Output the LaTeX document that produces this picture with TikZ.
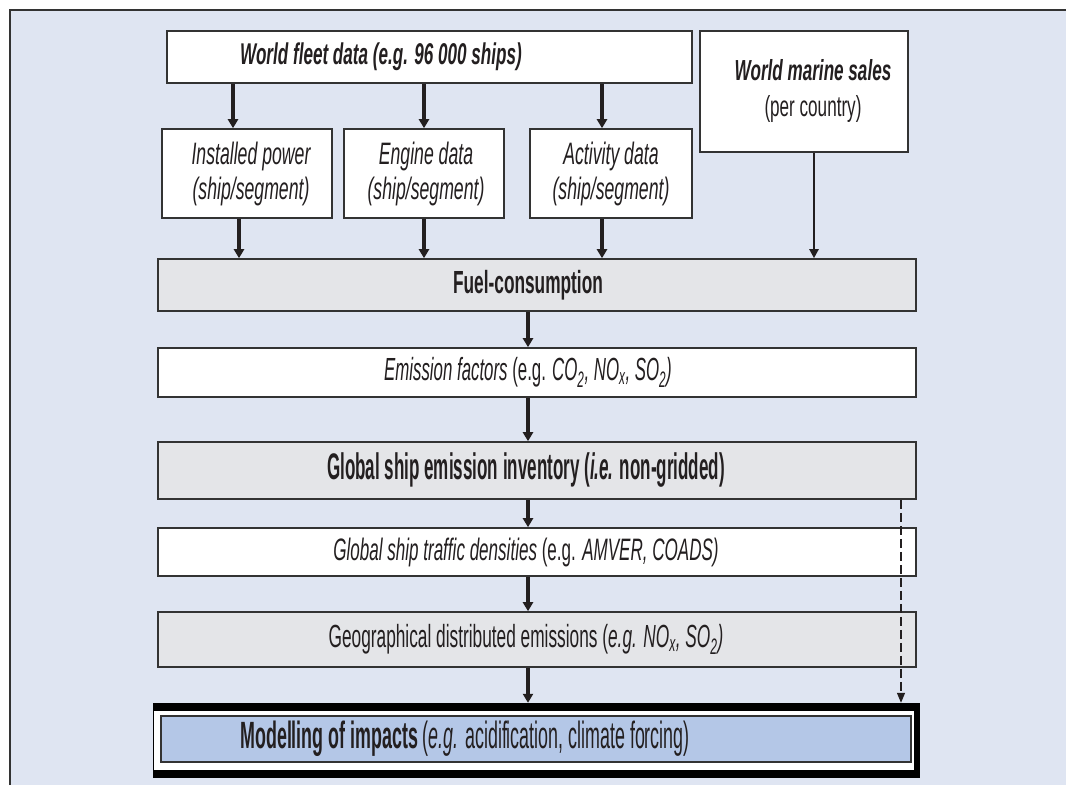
\documentclass[tikz,border=0pt]{standalone}
\usepackage{fontspec}
\setmainfont{Liberation Sans}
\usetikzlibrary{arrows.meta}
\definecolor{bgblue}{RGB}{223,229,242}
\definecolor{boxgrey}{RGB}{228,229,232}
\definecolor{modblue}{RGB}{180,199,231}
\definecolor{ink}{RGB}{35,31,32}
\definecolor{edge}{RGB}{51,51,51}
\newcommand\tfont[3]{\fontsize{#1}{#2}\selectfont\addfontfeatures{FakeStretch=#3}}
\begin{document}
\begin{tikzpicture}[x=1pt,y=-1pt,
  box/.style={draw=edge,line width=1.6pt,fill=white,inner sep=0pt},
  gbox/.style={box,fill=boxgrey},
  txt/.style={inner sep=0pt,text=ink,align=center},
  arr/.style={draw=ink,line width=4.5pt,-{Triangle[width=10pt,length=9pt]}},
  thinarr/.style={draw=ink,line width=2.6pt,-{Triangle[width=9pt,length=9pt]}},
  dasharr/.style={draw=ink,line width=1.2pt,dash pattern=on 9pt off 4pt,-{Triangle[width=8pt,length=10pt]}}]
\useasboundingbox (0,0) rectangle (1066,785);
\fill[bgblue] (10,10) rectangle (1066,785);
\draw[edge,line width=2pt] (10,785) -- (10,10) -- (1066,10);

% x positions of connectors
\coordinate (xa) at (233,0);
\coordinate (xb) at (424,0);
\coordinate (xc) at (602,0);
\coordinate (xa2) at (239,0);
\coordinate (xs) at (814,0);
\coordinate (xm) at (528,0);
\coordinate (xd) at (901,0);

% boxes
\node[box,minimum width=525pt,minimum height=52pt] (fleet) at (429.5,57) {};
\node[box,minimum width=208pt,minimum height=121pt] (sales) at (804,91.5) {};
\node[box,minimum width=170pt,minimum height=89pt] (inst) at (247,173.5) {};
\node[box,minimum width=160pt,minimum height=89pt] (eng) at (424,173.5) {};
\node[box,minimum width=162pt,minimum height=89pt] (act) at (611,173.5) {};
\node[gbox,minimum width=758pt,minimum height=52pt] (fuel) at (537,285) {};
\node[box,minimum width=758pt,minimum height=49pt] (emf) at (537,372.5) {};
\node[gbox,minimum width=758pt,minimum height=57pt] (inv) at (537,470.5) {};
\node[box,minimum width=758pt,minimum height=48pt] (traf) at (537,552) {};
\node[gbox,minimum width=758pt,minimum height=55pt] (geo) at (537,639.5) {};
\node[fill=black,inner sep=0pt,minimum width=767pt,minimum height=75pt] (modout) at (536.5,740.5) {};
\node[fill=white,inner sep=0pt,minimum width=760pt,minimum height=59pt] (modgap) at (534,740.5) {};
\node[box,fill=modblue,minimum width=750pt,minimum height=46pt] (modin) at (536,739) {};

% texts
\node[txt,font=\tfont{30}{36}{0.57}] (fleet-t) at (381,57) {\bfseries\itshape World fleet data (e.g. 96 000 ships)};
\node[txt,font=\tfont{29}{36}{0.59}] (sales-t) at (813,91) {\textbf{\textit{World marine sales}}\\(per country)};
\node[txt,font=\tfont{31}{35}{0.57}\itshape] (inst-t) at (251,173.5) {Installed power\\(ship/segment)};
\node[txt,font=\tfont{31}{35}{0.57}\itshape] (eng-t) at (426,173.5) {Engine data\\(ship/segment)};
\node[txt,font=\tfont{31}{35}{0.57}\itshape] (act-t) at (611,173.5) {Activity data\\(ship/segment)};
\node[txt,font=\tfont{32}{38}{0.54}] (fuel-t) at (528,285) {\bfseries Fuel-consumption};
\node[txt,font=\tfont{32}{38}{0.526}] (emf-t) at (528,372.5) {\textit{Emission factors} (e.g. \textit{CO\textsubscript{2}, NO\textsubscript{x}, SO\textsubscript{2})}};
\node[txt,font=\tfont{37}{44}{0.46}] (inv-t) at (526,470.5) {\bfseries Global ship emission inventory (\textit{i.e.} non-gridded)};
\node[txt,font=\tfont{31}{36}{0.55}] (traf-t) at (526,552) {\textit{Global ship traffic densities} (e.g. \textit{AMVER, COADS)}};
\node[txt,font=\tfont{32}{38}{0.54}] (geo-t) at (526,639.5) {Geographical distributed emissions (\textit{e.g. NO\textsubscript{x}, SO\textsubscript{2})}};
\node[txt,font=\tfont{38}{44}{0.47}] (mod-t) at (465,739) {\textbf{Modelling of impacts} (\textit{e.g.} acidification, climate forcing)};

% connectors
\draw[arr] (fleet.south -| xa) -- (inst.north -| xa);
\draw[arr] (fleet.south -| xb) -- (eng.north -| xb);
\draw[arr] (fleet.south -| xc) -- (act.north -| xc);
\draw[arr] (inst.south -| xa2) -- (fuel.north -| xa2);
\draw[arr] (eng.south -| xb) -- (fuel.north -| xb);
\draw[arr] (act.south -| xc) -- (fuel.north -| xc);
\draw[thinarr] (sales.south -| xs) -- (fuel.north -| xs);
\draw[arr] (fuel.south -| xm) -- (emf.north -| xm);
\draw[arr] (emf.south -| xm) -- (inv.north -| xm);
\draw[arr] (inv.south -| xm) -- (traf.north -| xm);
\draw[arr] (traf.south -| xm) -- (geo.north -| xm);
\draw[arr] (geo.south -| xm) -- (modout.north -| xm);
\draw[dasharr] (inv.south -| xd) -- (modout.north -| xd);
\end{tikzpicture}
\end{document}
